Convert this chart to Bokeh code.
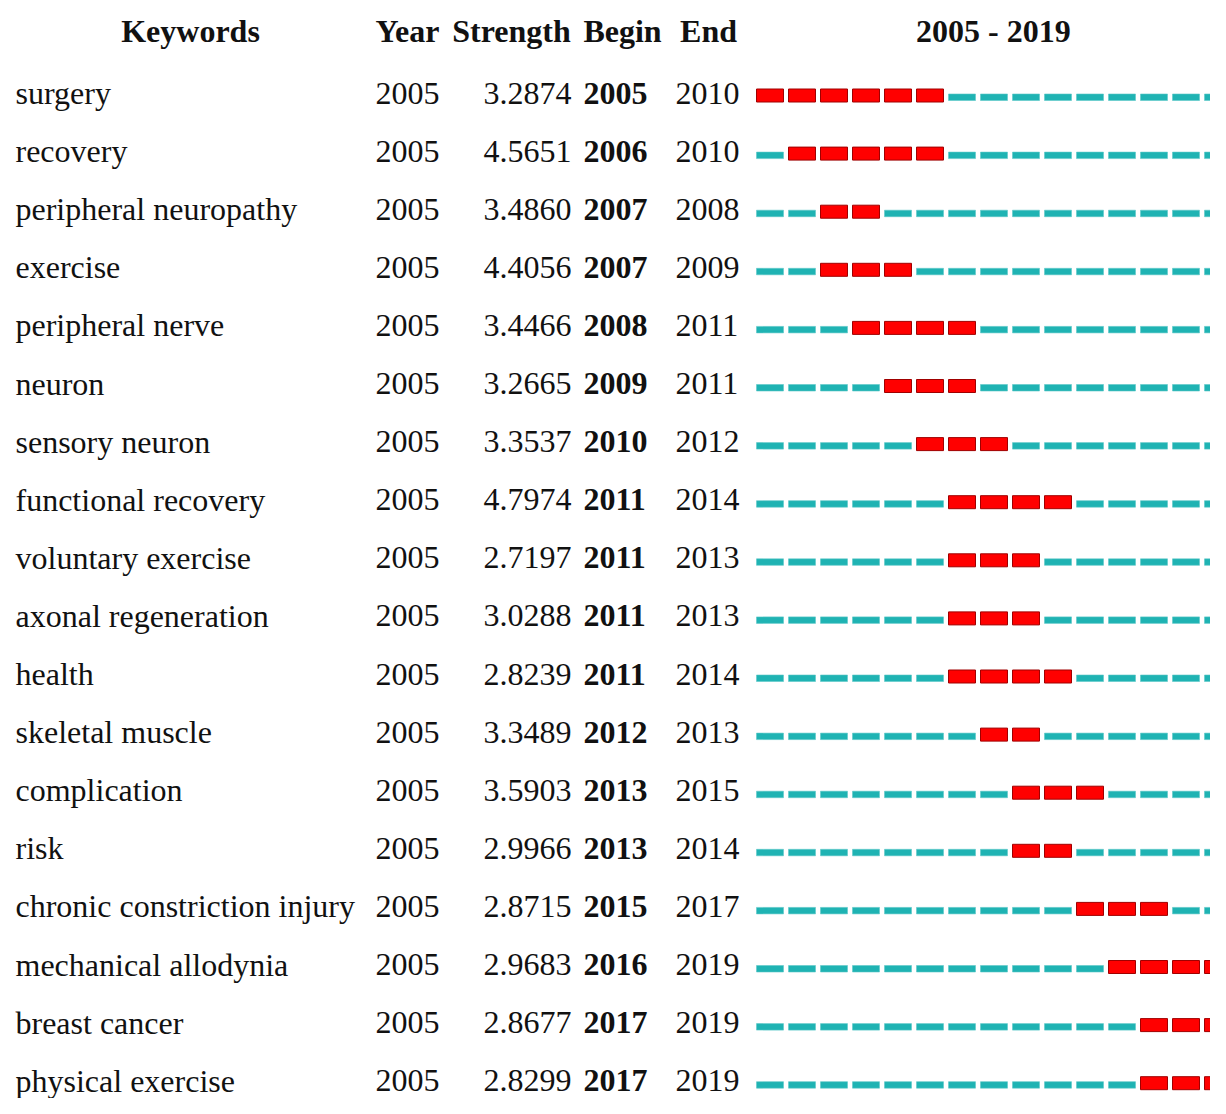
from bokeh.plotting import figure
from bokeh.models import ColumnDataSource, Range1d
from bokeh.layouts import row
from bokeh.core.properties import value
from bokeh.embed import file_html
from bokeh.resources import INLINE

keywords = ["surgery", "recovery", "peripheral neuropathy", "exercise", "peripheral nerve",
            "neuron", "sensory neuron", "functional recovery", "voluntary exercise",
            "axonal regeneration", "health", "skeletal muscle", "complication", "risk",
            "chronic constriction injury", "mechanical allodynia", "breast cancer",
            "physical exercise"]
year = [2005] * 18
strength = ["3.2874", "4.5651", "3.4860", "4.4056", "3.4466", "3.2665", "3.3537", "4.7974",
            "2.7197", "3.0288", "2.8239", "3.3489", "3.5903", "2.9966", "2.8715", "2.9683",
            "2.8677", "2.8299"]
begin = [2005, 2006, 2007, 2007, 2008, 2009, 2010, 2011, 2011, 2011, 2011, 2012, 2013, 2013,
         2015, 2016, 2017, 2017]
end = [2010, 2010, 2008, 2009, 2011, 2011, 2012, 2014, 2013, 2013, 2014, 2013, 2015, 2014,
       2017, 2019, 2019, 2019]
span_start, span_end = 2005, 2019
headers = ["Keywords", "Year", "Strength", "Begin", "End"]

FONT = value("Liberation Serif")
FS = "32px"
ROW_PX = 58.1
FIRST = 95.0          # pixel centre of first bar row
H = 1098
LW, RW = 740, 470
CELL = 32.0
TOP = -FIRST / ROW_PX
BOT = (H - FIRST) / ROW_PX
HEAD_Y = (32.5 - FIRST) / ROW_PX
TXT_DY = -2.5 / ROW_PX

rows_idx = list(range(len(keywords)))

# ---------- left table ----------
left = figure(width=LW, height=H, output_backend="svg", toolbar_location=None,
              x_range=Range1d(0, LW), y_range=Range1d(BOT, TOP), min_border=0,
              outline_line_color=None)
left.axis.visible = False
left.grid.visible = False

ty = [r + TXT_DY for r in rows_idx]
src = ColumnDataSource(dict(y=ty, kw=keywords, yr=[str(v) for v in year], st=strength,
                            bg=[str(v) for v in begin], en=[str(v) for v in end]))
common = dict(text_font=FONT, text_font_size=FS, text_baseline="middle", text_color="#111111")
left.text(x=15, y="y", text="kw", source=src, text_align="left", **common)
left.text(x=375, y="y", text="yr", source=src, text_align="left", **common)
left.text(x=571, y="y", text="st", source=src, text_align="right", **common)
left.text(x=583, y="y", text="bg", source=src, text_align="left", text_font_style="bold", **common)
left.text(x=675, y="y", text="en", source=src, text_align="left", **common)

hsrc = ColumnDataSource(dict(x=[190, 407, 511, 622, 708], y=[HEAD_Y + TXT_DY] * 5, t=headers))
left.text(x="x", y="y", text="t", source=hsrc, text_align="center",
          text_font_style="bold", **common)

# ---------- right burst bars ----------
x0 = span_start - 16 / CELL
right = figure(width=RW, height=H, output_backend="svg", toolbar_location=None,
               x_range=Range1d(x0, x0 + RW / CELL), y_range=Range1d(BOT, TOP), min_border=0,
               outline_line_color=None)
right.axis.visible = False
right.grid.visible = False

red = dict(l=[], r=[], t=[], b=[])
teal = dict(l=[], r=[], t=[], b=[])
bw = 27 / CELL
for i in rows_idx:
    for yv in range(span_start, span_end + 1):
        if begin[i] <= yv <= end[i]:
            d = red
            top, bot = i - 6.5 / ROW_PX, i + 6.5 / ROW_PX
        else:
            d = teal
            top, bot = i - 1.5 / ROW_PX, i + 5.0 / ROW_PX
        d["l"].append(yv)
        d["r"].append(yv + bw)
        d["t"].append(top)
        d["b"].append(bot)

right.quad(left="l", right="r", top="t", bottom="b", source=ColumnDataSource(teal),
           fill_color="#1FB3B3", line_color="#5CC8C8", line_width=0.6)
right.quad(left="l", right="r", top="t", bottom="b", source=ColumnDataSource(red),
           fill_color="#FF0000", line_color="#A00000", line_width=1)

right.text(x=[(span_start + span_end + 1) / 2 - 0.1], y=[HEAD_Y + TXT_DY],
           text=[f"{span_start} - {span_end}"], text_align="center",
           text_font_style="bold", **common)

layout = row(left, right, spacing=0)
open("out.html", "w").write(file_html(layout, INLINE))
